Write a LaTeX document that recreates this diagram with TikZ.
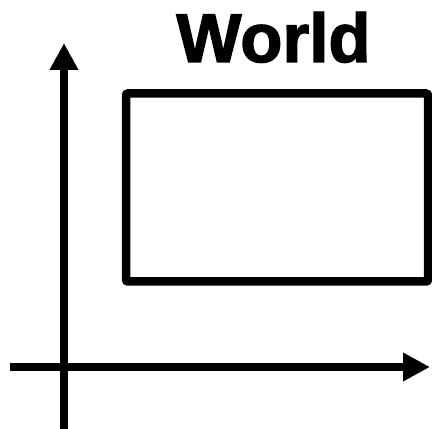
\documentclass[tikz,border=0pt]{standalone}
\usepackage{fontspec}
\setmainfont{Liberation Sans}
\newfontfamily\heavyfont[FakeBold=2]{Liberation Sans Bold}
\usetikzlibrary{arrows.meta}
\begin{document}
\begin{tikzpicture}[x=1pt,y=1pt,
  axis/.style={line width=8.5pt,-{Triangle[length=27pt,width=27pt]}},
  worldbox/.style={draw,line width=8.5pt,rounded corners=2pt,minimum width=302pt,minimum height=188pt,inner sep=0pt,outer sep=0pt},
  title/.style={font=\heavyfont\fontsize{69}{80}\selectfont,anchor=base,inner sep=0pt}]
\useasboundingbox (0,0) rectangle (432,429);
\coordinate (ybot) at (64,0);
\coordinate (ytop) at (64,386);
\coordinate (xl) at (10,62);
\coordinate (xr) at (430,62);
\draw[axis] (ybot) -- (ytop);
\draw[axis] (xl) -- (xr);
\node[worldbox] (world) at (277,241.5) {};
\node[title] (label) at (273.5,367) {World};
\end{tikzpicture}
\end{document}
